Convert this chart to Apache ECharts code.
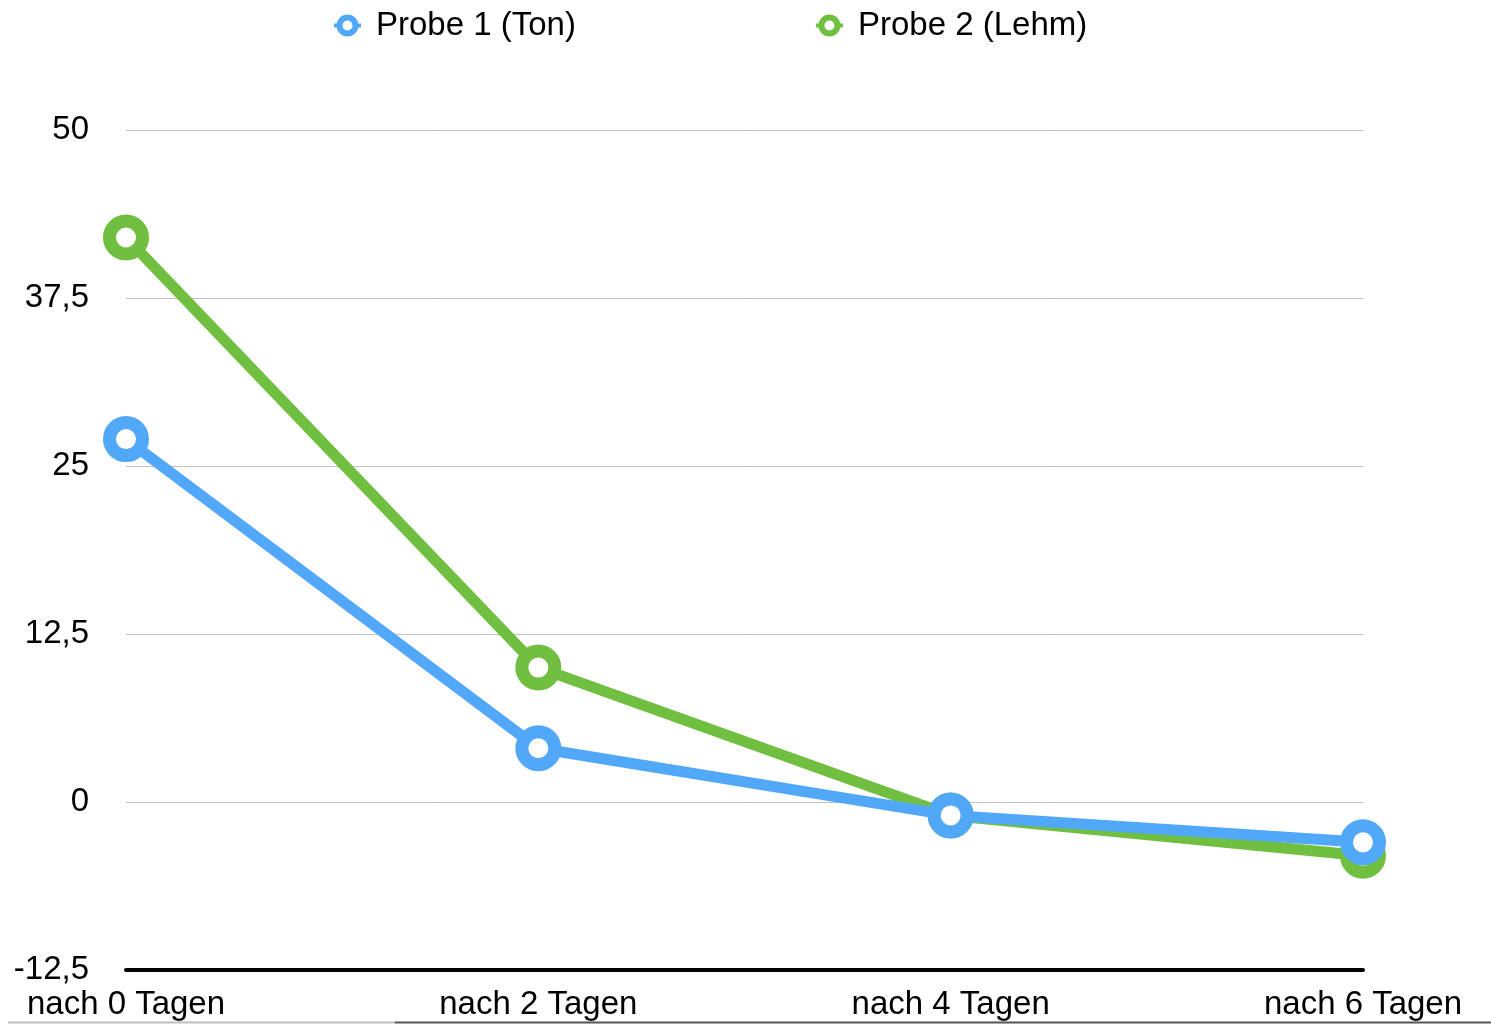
<!DOCTYPE html>
<html><head><meta charset="utf-8">
<style>html,body{margin:0;padding:0;background:#fff}#c{width:1491px;height:1025px}</style>
<script src="https://cdn.jsdelivr.net/npm/echarts@6/dist/echarts.min.js"></script>
</head><body><div id="c"></div>
<script>
const categories = ['nach 0 Tagen', 'nach 2 Tagen', 'nach 4 Tagen', 'nach 6 Tagen'];
const probe1 = [27, 4, -1, -3];
const probe2 = [42, 10, -1, -4];
const seriesNames = ['Probe 1 (Ton)', 'Probe 2 (Lehm)'];
const yMin = -12.5, yMax = 50, yStep = 12.5;

const BLUE = '#52a8f8', GREEN = '#70bf41';
const FONT = '"Liberation Sans", Arial, sans-serif';
const chart = echarts.init(document.getElementById('c'));
function mkSeries(name, data, color, z) {
  return {
    name, type: 'line', data, z,
    symbol: 'circle', symbolSize: 33,
    lineStyle: { color, width: 11 },
    itemStyle: { color: '#fff', borderColor: color, borderWidth: 13 },
    emphasis: { disabled: true },
    animation: false
  };
}
chart.setOption({
  animation: false,
  textStyle: { fontFamily: FONT },
  legend: {
    data: seriesNames,
    top: 4, left: 327,
    itemGap: 238, itemWidth: 27, itemHeight: 20,
    textStyle: { fontSize: 33, color: '#000', fontFamily: FONT, padding: [0, 0, 0, 10] },
    lineStyle: { width: 4 },
    itemStyle: { borderWidth: 6 }
  },
  grid: { left: 126, right: 128, top: 130, bottom: 55, containLabel: false },
  xAxis: {
    type: 'category', data: categories, boundaryGap: false,
    axisLine: { onZero: false, lineStyle: { color: '#000', width: 4 } },
    axisTick: { show: false },
    axisLabel: { fontSize: 33, color: '#000', margin: 18, fontFamily: FONT },
    splitLine: { show: false }
  },
  yAxis: {
    type: 'value', min: yMin, max: yMax, interval: yStep,
    axisLine: { show: false }, axisTick: { show: false },
    axisLabel: { fontSize: 33, color: '#000', margin: 37, fontFamily: FONT,
      padding: [4, 0, 0, 0],
      formatter: v => String(v).replace('.', ',') },
    splitLine: { lineStyle: { color: '#c4c4c4', width: 1 } }
  },
  series: [
    mkSeries(seriesNames[0], probe1, BLUE, 3),
    mkSeries(seriesNames[1], probe2, GREEN, 2)
  ],
  graphic: [
    { type: 'line', shape: { x1: 8, y1: 1022.5, x2: 395, y2: 1022.5 }, style: { stroke: '#bdbdbd', lineWidth: 2 } },
    { type: 'line', shape: { x1: 395, y1: 1022.5, x2: 1491, y2: 1022.5 }, style: { stroke: '#555', lineWidth: 2 } }
  ]
});
</script></body></html>
